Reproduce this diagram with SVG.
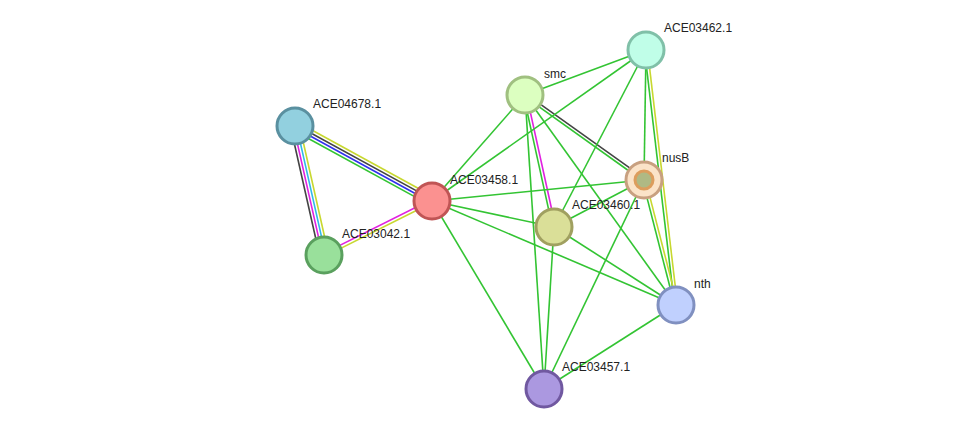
<svg xmlns="http://www.w3.org/2000/svg" width="975" height="434" viewBox="0 0 975 434">
<style>
line{stroke-width:1.6;fill:none}
.g{stroke:#33c433}.k{stroke:#444}.m{stroke:#e020e0}.y{stroke:#c8d830}.b{stroke:#3030ee}.c{stroke:#30b8e8}
circle{stroke-width:3}
text{font-family:"Liberation Sans",Arial,sans-serif;font-size:12px;fill:#222}
</style>
<rect width="975" height="434" fill="#fff"/>
<g id="connectors">
<g transform="translate(295,126) rotate(28.7)"><line class="y" x1="0" y1="-4.5" x2="156" y2="-4.5"/><line class="k" x1="0" y1="-1.5" x2="156" y2="-1.5"/><line class="b" x1="0" y1="1.5" x2="156" y2="1.5"/><line class="g" x1="0" y1="4.5" x2="156" y2="4.5"/></g>
<g transform="translate(295,126) rotate(77.3)"><line class="k" x1="0" y1="4.5" x2="132" y2="4.5"/><line class="m" x1="0" y1="1.5" x2="132" y2="1.5"/><line class="c" x1="0" y1="-1.5" x2="132" y2="-1.5"/><line class="y" x1="0" y1="-4.5" x2="132" y2="-4.5"/></g>
<g transform="translate(324,255) rotate(-26.6)"><line class="m" x1="0" y1="-1.5" x2="121" y2="-1.5"/><line class="y" x1="0" y1="1.5" x2="121" y2="1.5"/></g>
<g transform="translate(525,95) rotate(35.5)"><line class="k" x1="0" y1="-1.5" x2="146" y2="-1.5"/><line class="g" x1="0" y1="1.5" x2="146" y2="1.5"/></g>
<g transform="translate(525,95) rotate(77.6)"><line class="m" x1="0" y1="-1.5" x2="135" y2="-1.5"/><line class="g" x1="0" y1="1.5" x2="135" y2="1.5"/></g>
<g transform="translate(646,50) rotate(83.3)"><line class="y" x1="0" y1="-1.5" x2="257" y2="-1.5"/><line class="g" x1="0" y1="1.5" x2="257" y2="1.5"/></g>
<g transform="translate(644,180) rotate(75.6)"><line class="y" x1="0" y1="-1.5" x2="129" y2="-1.5"/><line class="g" x1="0" y1="1.5" x2="129" y2="1.5"/></g>
<line class="g" x1="432" y1="201" x2="525" y2="95"/>
<line class="g" x1="432" y1="201" x2="646" y2="50"/>
<line class="g" x1="432" y1="201" x2="644" y2="180"/>
<line class="g" x1="432" y1="201" x2="554" y2="227"/>
<line class="g" x1="432" y1="201" x2="676" y2="305"/>
<line class="g" x1="432" y1="201" x2="544" y2="389"/>
<line class="g" x1="525" y1="95" x2="646" y2="50"/>
<line class="g" x1="525" y1="95" x2="676" y2="305"/>
<line class="g" x1="525" y1="95" x2="544" y2="389"/>
<line class="g" x1="646" y1="50" x2="644" y2="180"/>
<line class="g" x1="646" y1="50" x2="554" y2="227"/>
<line class="g" x1="644" y1="180" x2="554" y2="227"/>
<line class="g" x1="644" y1="180" x2="544" y2="389"/>
<line class="g" x1="554" y1="227" x2="676" y2="305"/>
<line class="g" x1="554" y1="227" x2="544" y2="389"/>
<line class="g" x1="676" y1="305" x2="544" y2="389"/>
</g>
<g id="ACE04678.1"><circle cx="295" cy="126" r="18" fill="#92d0df" stroke="#5a90a0"/><text x="313" y="108">ACE04678.1</text></g>
<g id="ACE03042.1"><circle cx="324" cy="255" r="18" fill="#99e09b" stroke="#5aa05e"/><text x="342" y="238">ACE03042.1</text></g>
<g id="ACE03458.1"><circle cx="432" cy="201" r="18" fill="#fb9190" stroke="#c05555"/><text x="450" y="184">ACE03458.1</text></g>
<g id="smc"><circle cx="525" cy="95" r="18" fill="#dcffc0" stroke="#a0c080"/><text x="544" y="78">smc</text></g>
<g id="ACE03462.1"><circle cx="646" cy="50" r="18" fill="#c0fee8" stroke="#80c0a8"/><text x="664" y="32">ACE03462.1</text></g>
<g id="nusB"><circle cx="644" cy="180" r="18" fill="#fbe3c8" stroke="#c8a080"/><circle cx="644" cy="180" r="9" fill="#90a868" stroke="#d08030" stroke-width="1.5" opacity="0.7"/><text x="662" y="162">nusB</text></g>
<g id="ACE03460.1"><circle cx="554" cy="227" r="18" fill="#dadf98" stroke="#a0a060"/><text x="572" y="209">ACE03460.1</text></g>
<g id="nth"><circle cx="676" cy="305" r="18" fill="#c0d0fe" stroke="#8090c0"/><text x="694" y="288">nth</text></g>
<g id="ACE03457.1"><circle cx="544" cy="389" r="18" fill="#ab98e0" stroke="#7058a0"/><text x="562" y="371">ACE03457.1</text></g>
</svg>
